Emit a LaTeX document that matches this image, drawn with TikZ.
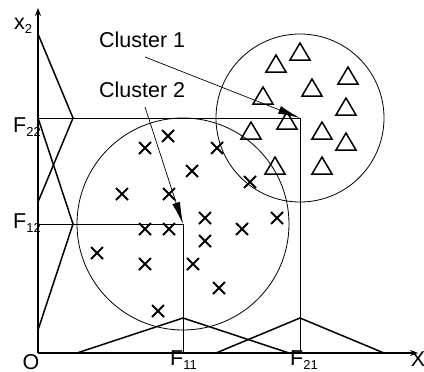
\documentclass[tikz,border=0pt]{standalone}
\usepackage{fontspec}
\setmainfont{Liberation Sans}
\usetikzlibrary{arrows.meta}
\newcommand\subtxt[1]{\raisebox{-0.22em}{\fontsize{13}{13}\selectfont #1}}
\begin{document}
\begin{tikzpicture}[x=1pt,y=-1pt,
  axisline/.style={line width=1.6pt},
  memb/.style={line width=1.5pt},
  guide/.style={line width=0.8pt},
  clust/.style={line width=0.8pt},
  pointer/.style={line width=0.7pt,-{Latex[length=22pt,width=8pt]}},
  lbl/.style={inner sep=0pt,font=\fontsize{21.5}{22}\selectfont},
  crossline/.style={line width=1.8pt},
  triline/.style={line width=1.5pt,line join=miter},
  crs/.pic={\draw[crossline] (-6,-6)--(6,6) (-6,6)--(6,-6);},
  tri/.pic={\draw[triline] (-10,7)--(0,-10)--(10,7)--cycle;}
]
\useasboundingbox (0,0) rectangle (424,372);

% key coordinates
\coordinate (O) at (38,353);
\coordinate (ytop) at (38,8);
\coordinate (xend) at (418,353);
\coordinate (P1) at (300,118);
\coordinate (P2) at (183,224);
\coordinate (F22a) at (38,118);
\coordinate (F12a) at (38,224);
\coordinate (F21a) at (300,353);
\coordinate (F11a) at (183,353);

% axes
\draw[axisline,-{Stealth[length=8pt,width=6pt]}] (O) -- (ytop);
\draw[axisline,-{Stealth[length=8pt,width=6pt]}] (O) -- (xend);

% guide lines
\draw[guide] (F22a) -- (P1) -- (F21a);
\draw[guide] (F12a) -- (P2) -- (F11a);

% clusters
\draw[clust] (P1) circle[radius=84];
\draw[clust] (P2) circle[radius=106];

% membership functions, left
\draw[memb] (38,34) -- (73,118) -- (38,202);
\draw[memb] (38,118) -- (73,224) -- (38,330);
% membership functions, bottom
\draw[memb] (77,353) -- (183,318) -- (289,353);
\draw[memb] (216,353) -- (300,318) -- (384,353);

% triangles (cluster 1)
\foreach \p in {(300,53),(276,65),(348,77),(312,89),(263,97),(346,108),
  (287,122),(251,132),(322,132),(346,143),(275,167),(322,167)}
  \pic at \p {tri};

% crosses (cluster 2)
\foreach \p in {(145,148),(168,136),(217,148),(192,171),(250,182),(122,194),
  (169,194),(205,218),(277,218),(145,229),(169,229),(242,229),(205,241),
  (97,253),(145,264),(193,264),(219,288),(158,311)}
  \pic at \p {crs};

% cluster labels and pointers
\node[lbl,anchor=base west] (c1) at (99,48) {Cluster 1};
\node[lbl,anchor=base west] (c2) at (99,97) {Cluster 2};
\coordinate (c1s) at (145,57);
\coordinate (c2s) at (145,107);
\draw[pointer] (c1s) -- (P1);
\draw[pointer] (c2s) -- (P2);

% axis labels
\node[lbl,anchor=base west] (lx2) at (14,29) {x\subtxt{2}};
\node[lbl,anchor=base] (lxx) at (418,366) {X};
\node[lbl,anchor=base] (lO) at (31,369) {O};
\node[lbl,anchor=base west] (lF22) at (13,132) {F\subtxt{22}};
\node[lbl,anchor=base west] (lF12) at (13,228) {F\subtxt{12}};
\node[lbl,anchor=base west] (lF11) at (170,365) {F\subtxt{11}};
\node[lbl,anchor=base west] (lF21) at (290,365) {F\subtxt{21}};
\end{tikzpicture}
\end{document}
